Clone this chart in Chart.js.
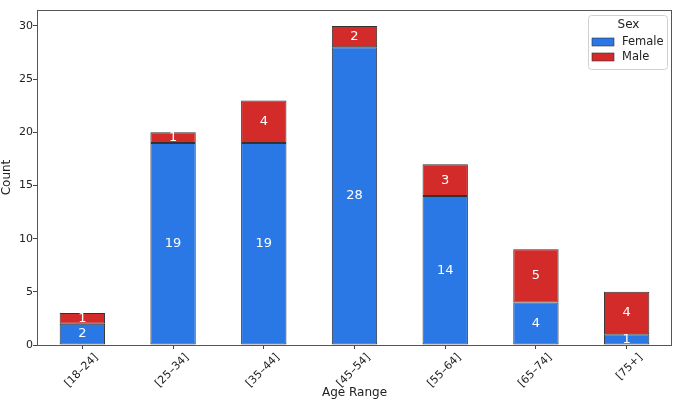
<!DOCTYPE html>
<html>
<head>
<meta charset="utf-8">
<script src="https://cdn.jsdelivr.net/npm/chart.js@4"></script>
<style>
  html, body { margin: 0; padding: 0; background: #fff; }
  canvas { display: block; }
</style>
</head>
<body>
<canvas id="grafico" width="680" height="404"></canvas>
<script>
// Dados
const faixas = ['[18–24]', '[25–34]', '[35–44]', '[45–54]', '[55–64]', '[65–74]', '[75+]'];
const feminino = [2, 19, 19, 28, 14, 4, 1];
const masculino = [1, 1, 4, 2, 3, 5, 4];
const ticksY = [0, 5, 10, 15, 20, 25, 30];

const corAzul = '#2a77e6';
const corVermelho = '#d32a2a';
const fonte = 'DejaVu Sans';

// Rótulos brancos no meio de cada segmento
const rotulos = {
  id: 'rotulos',
  afterDatasetsDraw(chart) {
    const c = chart.ctx;
    c.save();
    c.fillStyle = '#fff';
    c.font = '13px "' + fonte + '"';
    c.textAlign = 'center';
    c.textBaseline = 'middle';
    chart.data.datasets.forEach((ds, i) => {
      chart.getDatasetMeta(i).data.forEach((bar, j) => {
        const v = ds.data[j];
        if (!v) return;
        c.fillText(String(v), bar.x, (bar.y + bar.base) / 2);
      });
    });
    c.restore();
  }
};

// Moldura e legenda
const moldura = {
  id: 'moldura',
  afterDraw(chart) {
    const c = chart.ctx;
    const a = chart.chartArea;
    c.save();
    c.strokeStyle = '#555';
    c.lineWidth = 1;
    c.strokeRect(a.left + 0.5, a.top + 0.5, a.right - a.left - 1, a.bottom - a.top);

    // legenda
    const w = 79, h = 54;
    const x = a.right - w - 5, y = a.top + 5;
    c.fillStyle = 'rgba(255,255,255,0.9)';
    c.strokeStyle = '#d0d0d0';
    c.beginPath();
    c.roundRect(x + 0.5, y + 0.5, w, h, 3);
    c.fill();
    c.stroke();
    c.fillStyle = '#222';
    c.font = '12px "' + fonte + '"';
    c.textAlign = 'center';
    c.textBaseline = 'middle';
    c.fillText('Sex', x + w / 2 + 1, y + 10);
    const itens = [['Female', corAzul], ['Male', corVermelho]];
    c.textAlign = 'left';
    c.font = '11.5px "' + fonte + '"';
    itens.forEach((it, k) => {
      const yy = y + 27 + k * 15;
      c.fillStyle = it[1];
      c.fillRect(x + 4, yy - 4, 22, 8);
      c.strokeStyle = '#333';
      c.lineWidth = 0.6;
      c.strokeRect(x + 4, yy - 4, 22, 8);
      c.fillStyle = '#222';
      c.fillText(it[0], x + 34, yy);
    });
    c.restore();
  }
};

const ctx = document.getElementById('grafico');
new Chart(ctx, {
  type: 'bar',
  data: {
    labels: faixas,
    datasets: [
      { label: 'Female', data: feminino, backgroundColor: corAzul, borderColor: '#333', borderWidth: 1, borderSkipped: false, barPercentage: 0.5, categoryPercentage: 1 },
      { label: 'Male', data: masculino, backgroundColor: corVermelho, borderColor: '#333', borderWidth: 1, borderSkipped: false, barPercentage: 0.5, categoryPercentage: 1 }
    ]
  },
  options: {
    responsive: false,
    animation: false,
    devicePixelRatio: 1,
    layout: { padding: { top: 10, right: 8, left: 0, bottom: 0 } },
    plugins: { legend: { display: false }, tooltip: { enabled: false } },
    scales: {
      x: {
        stacked: true,
        grid: { display: true, offset: false, drawOnChartArea: false, drawTicks: true, tickLength: 4, color: '#444' },
        border: { display: false },
        ticks: { color: '#222', font: { family: fonte, size: 11 }, minRotation: 45, maxRotation: 45, padding: 2, labelOffset: 14 },
        title: { display: true, text: 'Age Range', color: '#222', font: { family: fonte, size: 12 }, padding: { top: 0, bottom: 4 } },
        afterFit(s) { s.height = 59; }
      },
      y: {
        stacked: true,
        min: 0,
        max: 31.5,
        afterBuildTicks(s) { s.ticks = ticksY.map(v => ({ value: v })); },
        grid: { display: true, drawOnChartArea: false, drawTicks: true, tickLength: 4, color: '#444' },
        border: { display: false },
        ticks: { color: '#222', font: { family: fonte, size: 11 }, padding: 0 },
        title: { display: true, text: 'Count', color: '#222', font: { family: fonte, size: 12 }, padding: { top: 0, bottom: 0 } },
        afterFit(s) { s.width = 37; }
      }
    }
  },
  plugins: [rotulos, moldura]
});
</script>
</body>
</html>
